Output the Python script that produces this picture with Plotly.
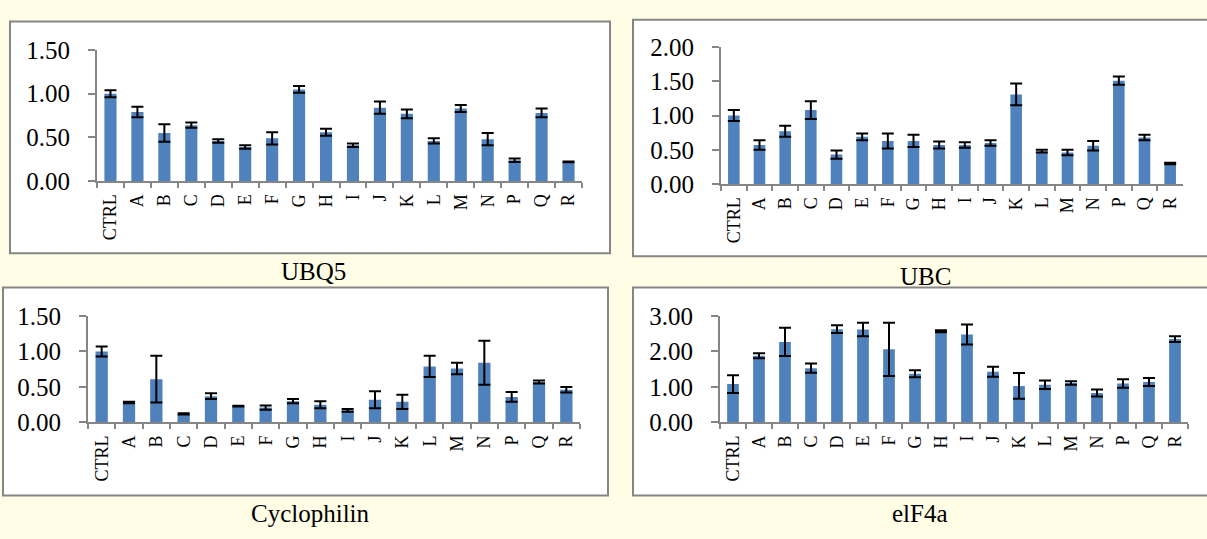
import plotly.graph_objects as go

categories = ["CTRL", "A", "B", "C", "D", "E", "F", "G", "H", "I", "J", "K", "L", "M", "N", "P", "Q", "R"]

ubq5_values = [1.00, 0.79, 0.55, 0.64, 0.46, 0.39, 0.49, 1.05, 0.56, 0.41, 0.84, 0.77, 0.46, 0.83, 0.48, 0.24, 0.78, 0.22]
ubq5_errors = [0.04, 0.06, 0.10, 0.03, 0.02, 0.02, 0.07, 0.04, 0.04, 0.02, 0.07, 0.05, 0.03, 0.04, 0.07, 0.02, 0.05, 0.005]

ubc_values = [1.00, 0.57, 0.77, 1.08, 0.43, 0.69, 0.63, 0.63, 0.57, 0.57, 0.60, 1.31, 0.48, 0.46, 0.56, 1.51, 0.68, 0.30]
ubc_errors = [0.08, 0.07, 0.08, 0.13, 0.06, 0.05, 0.11, 0.09, 0.05, 0.04, 0.04, 0.16, 0.02, 0.04, 0.07, 0.06, 0.04, 0.01]

cyclo_values = [1.00, 0.28, 0.61, 0.12, 0.37, 0.23, 0.21, 0.30, 0.25, 0.17, 0.32, 0.29, 0.79, 0.76, 0.84, 0.36, 0.57, 0.46]
cyclo_errors = [0.07, 0.01, 0.33, 0.01, 0.04, 0.005, 0.03, 0.03, 0.05, 0.02, 0.12, 0.10, 0.15, 0.08, 0.31, 0.07, 0.02, 0.04]

elf_values = [1.08, 1.88, 2.27, 1.53, 2.63, 2.62, 2.06, 1.37, 2.57, 2.48, 1.43, 1.03, 1.06, 1.11, 0.83, 1.10, 1.14, 2.35]
elf_errors = [0.25, 0.07, 0.40, 0.13, 0.11, 0.19, 0.75, 0.10, 0.03, 0.28, 0.14, 0.36, 0.12, 0.05, 0.10, 0.12, 0.11, 0.08]

panel_titles = ["UBQ5", "UBC", "Cyclophilin", "elF4a"]
y_ranges = [[0, 1.5], [0, 2.0], [0, 1.5], [0, 3.0]]
y_dticks = [0.5, 0.5, 0.5, 1.0]

W, H = 1207, 539
BG = "#FFFDE6"
BAR = "#4F81BD"
AXIS = "#868686"
FONT = "Times New Roman, Liberation Serif, serif"

# pixel layouts: (x0, x1, ybottom, ytop) of plot areas; boxes; title positions
plot_px = [(97, 582, 177, 39), (721, 1183, 180, 36), (88, 580, 431, 319), (720, 1188, 431, 319)]
box_px = [(10, 610, 9, 253), (633, 1212, 7, 256), (3, 608, 289, 508), (633, 1212, 289, 508)]
title_px = [(313, 272), (925, 277), (310, 527), (920, 527)]

series = [(ubq5_values, ubq5_errors), (ubc_values, ubc_errors), (cyclo_values, cyclo_errors), (elf_values, elf_errors)]

fig = go.Figure()
shapes = []
annotations = []
layout = {}
for i, (vals, errs) in enumerate(series):
    n = i + 1
    xa = "x" if n == 1 else f"x{n}"
    ya = "y" if n == 1 else f"y{n}"
    fig.add_trace(go.Bar(
        x=categories, y=vals, xaxis=xa, yaxis=ya,
        marker=dict(color=BAR, line=dict(width=0)),
        error_y=dict(type="data", array=errs, visible=True, color="black", thickness=2, width=6),
        showlegend=False,
    ))
    x0, x1, yb, yt = plot_px[i]
    xkey = "xaxis" if n == 1 else f"xaxis{n}"
    ykey = "yaxis" if n == 1 else f"yaxis{n}"
    layout[xkey] = dict(
        domain=[x0 / W, x1 / W], anchor=ya, type="category",
        showline=True, linecolor=AXIS, linewidth=2, ticks="outside", ticklen=5, tickcolor=AXIS,
        tickwidth=1.5, tickson="boundaries", tickangle=-90, showgrid=False, ticklabelstandoff=4,
        tickfont=dict(family=FONT, size=18, color="black"), fixedrange=True,
    )
    layout[ykey] = dict(
        domain=[1 - yb / H, 1 - yt / H], anchor=xa, range=y_ranges[i], dtick=y_dticks[i],
        tickformat=".2f", showline=True, linecolor=AXIS, linewidth=2, ticks="outside", ticklen=7,
        tickcolor=AXIS, tickwidth=1.5, showgrid=False, zeroline=False, ticklabelstandoff=13,
        tickfont=dict(family=FONT, size=25, color="black"), fixedrange=True,
    )
    bx0, bx1, by0, by1 = box_px[i]
    shapes.append(dict(type="rect", xref="paper", yref="paper",
                       x0=bx0 / W, x1=bx1 / W, y0=1 - by1 / H, y1=1 - by0 / H,
                       line=dict(color=AXIS, width=2), fillcolor="white", layer="below"))
    tx, ty = title_px[i]
    annotations.append(dict(text=panel_titles[i], xref="paper", yref="paper", x=tx / W, y=1 - ty / H,
                            showarrow=False, xanchor="center", yanchor="middle",
                            font=dict(family=FONT, size=25, color="black")))

fig.update_layout(
    width=W, height=H, margin=dict(l=0, r=0, t=0, b=0),
    paper_bgcolor=BG, plot_bgcolor="rgba(0,0,0,0)",
    bargap=0.55, shapes=shapes, annotations=annotations, **layout,
)
fig.write_html("out.html", config={"displayModeBar": False},
               post_script="document.body.style.margin='0';document.body.style.overflow='hidden';")
